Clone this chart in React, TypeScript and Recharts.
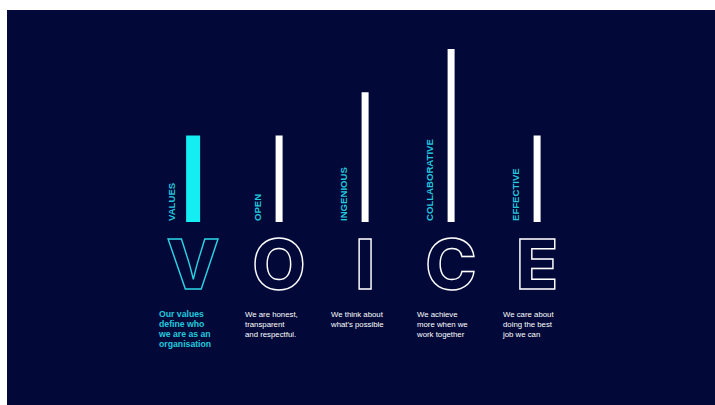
import React from 'react';
import { BarChart, Bar, XAxis, YAxis, LabelList } from 'recharts';

const categories = ['VALUES', 'OPEN', 'INGENIOUS', 'COLLABORATIVE', 'EFFECTIVE'];
const values = [2, 2, 3, 4, 2];
const letters = ['V', 'O', 'I', 'C', 'E'];
const descriptions = [
  ['Our values', 'define who', 'we are as an', 'organisation'],
  ['We are honest,', 'transparent', 'and respectful.'],
  ['We think about', "what's possible"],
  ['We achieve', 'more when we', 'work together'],
  ['We care about', 'doing the best', 'job we can'],
];
const highlighted = 'VALUES';

const NAVY = '#020938';
const CYAN = '#14eef2';
const LABEL_CYAN = '#22c8de';
const FONT = '"Liberation Sans", Arial, sans-serif';
const LETTER_FONT = 'Inter, "Liberation Sans", Arial, sans-serif';

const chartData = categories.map((name, i) => ({ name, value: values[i] }));

const BarShape = (props: any) => {
  const { x, y, width, height } = props;
  const name = props.payload?.name ?? props.name;
  const hl = name === highlighted;
  const w = hl ? 14 : 7;
  const cx = x + width / 2;
  return <rect x={cx - w / 2} y={y} width={w} height={height} fill={hl ? CYAN : '#ffffff'} />;
};

const SideLabel = (props: any) => {
  const { x, y, width, height, value } = props;
  const cx = x + width / 2 - 18;
  const by = y + height - 1;
  return (
    <text
      x={cx}
      y={by}
      transform={`rotate(-90 ${cx} ${by})`}
      fill={LABEL_CYAN}
      fontSize={9.6}
      fontWeight={700}
      fontFamily={FONT}
      textAnchor="start"
    >
      {value}
    </text>
  );
};

const LetterTick = (props: any) => {
  const { x, y, payload } = props;
  const i = categories.indexOf(payload.value);
  const hl = payload.value === highlighted;
  const color = hl ? LABEL_CYAN : '#ffffff';
  return (
    <g>
      <text
        x={x}
        y={y + 67}
        textAnchor="middle"
        fontSize={69}
        fontWeight={800}
        fontFamily={LETTER_FONT}
        fill="none"
        stroke={hl ? '#2ad4e4' : '#ffffff'}
        strokeWidth={1.4}
      >
        {letters[i]}
      </text>
      {descriptions[i].map((line, k) => (
        <text
          key={k}
          x={x - 34}
          y={y + 95 + k * 10}
          fontSize={hl ? 8.7 : 7.8}
          fontWeight={hl ? 700 : 400}
          fontFamily={FONT}
          fill={color}
          textAnchor="start"
        >
          {line}
        </text>
      ))}
    </g>
  );
};

export default function App() {
  return (
    <div style={{ position: 'absolute', left: 0, top: 0, width: 715, height: 405, background: '#ffffff' }}>
      <div style={{ position: 'absolute', left: 7, top: 10, width: 708, height: 395, background: NAVY }}>
        <BarChart width={708} height={395} data={chartData} margin={{ top: 39, right: 135, bottom: 153, left: 143 }}>
          <XAxis
            dataKey="name"
            height={30}
            axisLine={false}
            tickLine={false}
            tickSize={0}
            tickMargin={0}
            interval={0}
            tick={<LetterTick />}
          />
          <YAxis hide domain={[0, 4]} />
          <Bar dataKey="value" shape={<BarShape />} isAnimationActive={false}>
            <LabelList dataKey="name" content={<SideLabel />} />
          </Bar>
        </BarChart>
      </div>
    </div>
  );
}
